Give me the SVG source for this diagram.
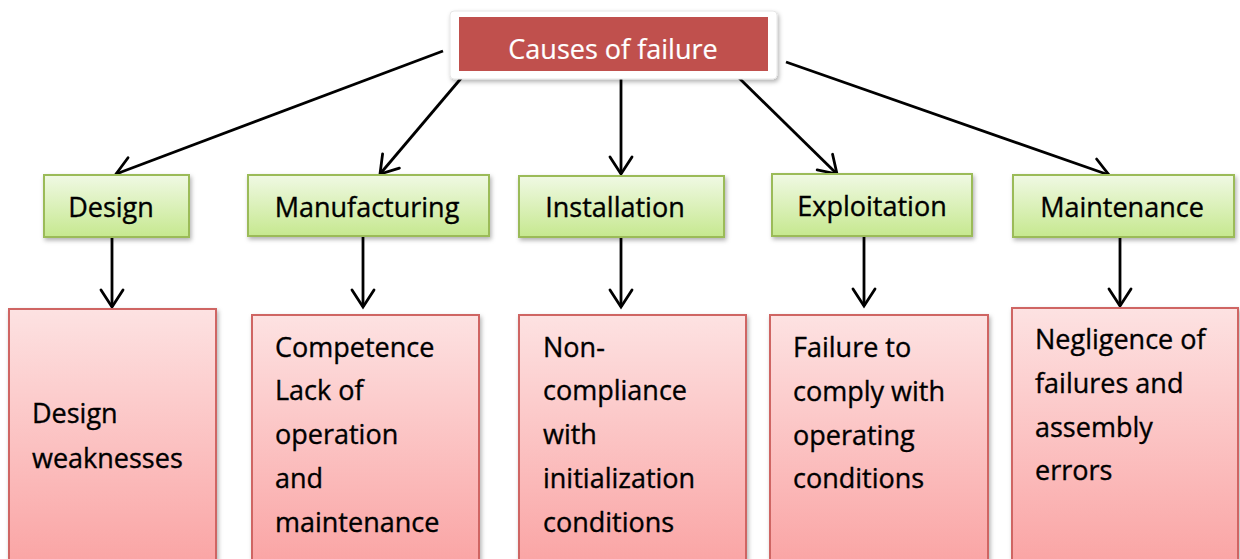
<svg xmlns="http://www.w3.org/2000/svg" width="1240" height="559" viewBox="0 0 1240 559">
<defs>
<linearGradient id="gGreen" x1="0" y1="0" x2="0" y2="1">
<stop offset="0" stop-color="#f0f9e4"/>
<stop offset="1" stop-color="#c6e88f"/>
</linearGradient>
<linearGradient id="gPink" x1="0" y1="0" x2="0" y2="1">
<stop offset="0" stop-color="#fde2e2"/>
<stop offset="1" stop-color="#faa3a3"/>
</linearGradient>
<filter id="shadow" x="-10%" y="-10%" width="130%" height="140%">
<feDropShadow dx="1.5" dy="2.5" stdDeviation="2" flood-color="#000" flood-opacity="0.3"/>
</filter>
<marker id="arrow" viewBox="-22 -15 26 30" refX="0" refY="0" markerWidth="26" markerHeight="30" markerUnits="userSpaceOnUse" orient="auto">
<path d="M-17,-11 L0,0 L-17,11" fill="none" stroke="#000" stroke-width="2.8" stroke-linecap="round" stroke-linejoin="miter"/>
</marker>
<style>
text { font-family: "Open Sans", "Liberation Sans", sans-serif; font-size: 27px; fill: #000; stroke: #000; stroke-width: 0.35; }
.title { fill: #fff; stroke: #fff; stroke-width: 0.2; text-anchor: middle; }
.lab { text-anchor: middle; }
.green { fill: url(#gGreen); stroke: #9bbb59; stroke-width: 2; }
.pink { fill: url(#gPink); stroke: #cf6563; stroke-width: 2; }
.conn { stroke: #000; stroke-width: 2.8; fill: none; marker-end: url(#arrow); }
</style>
</defs>
<rect width="1240" height="559" fill="#fff"/>

<g id="connectors">
<line class="conn" x1="443" y1="51" x2="116" y2="174"/>
<line class="conn" x1="463" y1="76" x2="380" y2="174"/>
<line class="conn" x1="621" y1="70" x2="621" y2="174"/>
<line class="conn" x1="737" y1="76" x2="837" y2="174"/>
<line class="conn" x1="786" y1="62" x2="1109" y2="175"/>
<line class="conn" x1="112" y1="237" x2="112" y2="307"/>
<line class="conn" x1="363" y1="237" x2="363" y2="307"/>
<line class="conn" x1="621" y1="237" x2="621" y2="307"/>
<line class="conn" x1="864" y1="236" x2="864" y2="306"/>
<line class="conn" x1="1120" y1="237" x2="1120" y2="306"/>
</g>

<g id="root">
<rect x="450" y="11" width="327" height="68" rx="4" fill="#fff" stroke="#e6e6e6" stroke-width="1" filter="url(#shadow)"/>
<rect x="459" y="17" width="309" height="54" fill="#c0504d"/>
<text class="title" x="613" y="59">Causes of failure</text>
</g>

<g id="design">
<rect class="green" x="44" y="175" width="145" height="62" filter="url(#shadow)"/>
<text class="lab" x="111" y="217">Design</text>
</g>
<g id="manufacturing">
<rect class="green" x="248" y="175" width="241" height="61" filter="url(#shadow)"/>
<text class="lab" x="367" y="217">Manufacturing</text>
</g>
<g id="installation">
<rect class="green" x="519" y="176" width="205" height="61" filter="url(#shadow)"/>
<text class="lab" x="615" y="217">Installation</text>
</g>
<g id="exploitation">
<rect class="green" x="772" y="174" width="200" height="62" filter="url(#shadow)"/>
<text class="lab" x="872" y="216">Exploitation</text>
</g>
<g id="maintenance">
<rect class="green" x="1013" y="175" width="221" height="62" filter="url(#shadow)"/>
<text class="lab" x="1122" y="217">Maintenance</text>
</g>

<g id="design-causes">
<rect class="pink" x="9" y="309" width="207" height="260" filter="url(#shadow)"/>
<text x="32" y="423">Design</text>
<text x="32" y="468">weaknesses</text>
</g>
<g id="manufacturing-causes">
<rect class="pink" x="252" y="315" width="227" height="254" filter="url(#shadow)"/>
<text x="275" y="357">Competence</text>
<text x="275" y="400">Lack of</text>
<text x="275" y="444">operation</text>
<text x="275" y="488">and</text>
<text x="275" y="532">maintenance</text>
</g>
<g id="installation-causes">
<rect class="pink" x="519" y="315" width="227" height="254" filter="url(#shadow)"/>
<text x="543" y="357">Non-</text>
<text x="543" y="400">compliance</text>
<text x="543" y="444">with</text>
<text x="543" y="488">initialization</text>
<text x="543" y="532">conditions</text>
</g>
<g id="exploitation-causes">
<rect class="pink" x="770" y="315" width="218" height="254" filter="url(#shadow)"/>
<text x="793" y="357">Failure to</text>
<text x="793" y="401">comply with</text>
<text x="793" y="445">operating</text>
<text x="793" y="488">conditions</text>
</g>
<g id="maintenance-causes">
<rect class="pink" x="1012" y="308" width="226" height="261" filter="url(#shadow)"/>
<text x="1035" y="349">Negligence of</text>
<text x="1035" y="393">failures and</text>
<text x="1035" y="437">assembly</text>
<text x="1035" y="480">errors</text>
</g>
</svg>
